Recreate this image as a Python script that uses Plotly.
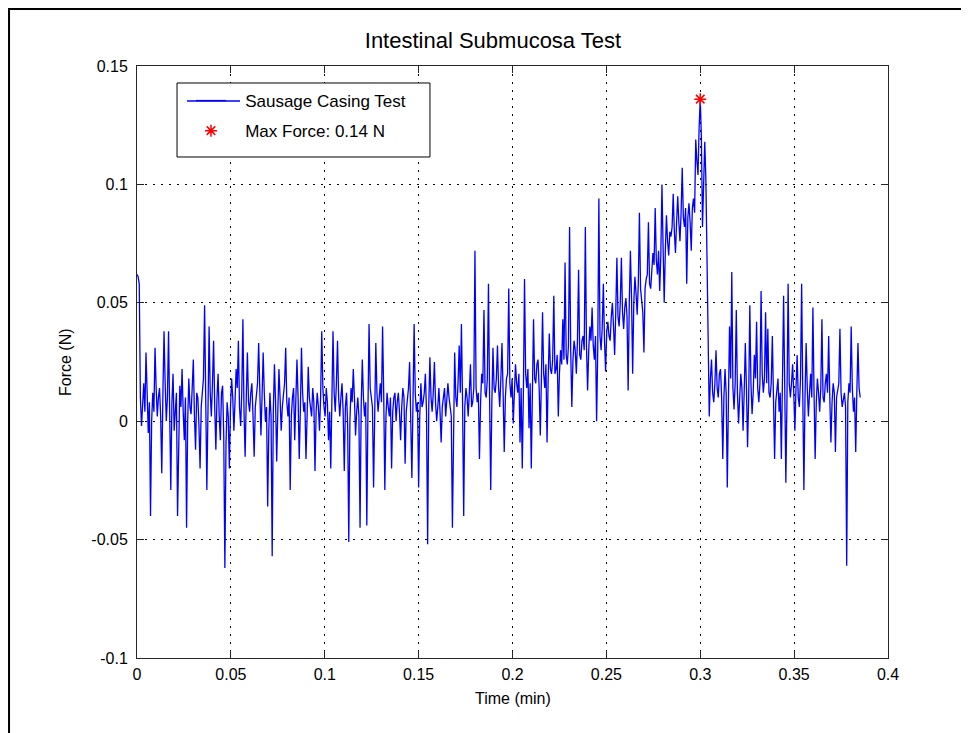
import numpy as np
import plotly.graph_objects as go

# ---- data ----
dt_min = 0.0006  # sample spacing in minutes
force_N = [
    0.062, 0.061, 0.058, 0.010, -0.002, 0.006, 0.016, 0.004, 0.029, 0.012, -0.005, 0.008, -0.040, 0.000, 0.012, 0.004, 0.031, 0.014, 0.002, 0.010,
    0.014, 0.002, -0.022, 0.012, 0.038, 0.016, 0.000, 0.010, 0.038, 0.004, -0.029, 0.008, 0.020, -0.004, 0.005, 0.012, -0.040, -0.002, 0.015, 0.006,
    0.022, 0.004, -0.008, 0.010, -0.045, 0.000, 0.018, 0.006, 0.003, 0.014, 0.026, 0.002, -0.012, 0.012, 0.010, -0.002, -0.020, 0.006, 0.012, 0.018,
    0.049, 0.008, -0.029, 0.004, 0.040, 0.012, 0.002, 0.016, 0.034, 0.006, -0.012, 0.010, 0.020, 0.002, -0.008, 0.012, 0.015, -0.006, -0.062, -0.010,
    0.008, 0.002, -0.020, 0.006, 0.018, 0.010, -0.004, 0.008, 0.022, 0.014, 0.034, 0.006, -0.002, 0.012, 0.043, 0.004, -0.015, 0.010, 0.029, 0.008,
    0.004, 0.012, 0.016, 0.002, -0.015, 0.006, 0.010, 0.016, 0.033, 0.004, -0.006, 0.010, 0.029, 0.012, 0.000, 0.006, -0.036, -0.004, 0.012, 0.002,
    -0.057, 0.004, 0.024, 0.008, -0.017, 0.004, 0.022, 0.010, -0.004, 0.006, 0.012, 0.016, 0.031, 0.008, 0.002, 0.010, -0.029, 0.002, 0.010, 0.014,
    -0.008, 0.008, 0.026, 0.010, -0.016, 0.004, 0.031, 0.012, 0.004, 0.008, -0.016, 0.002, 0.023, 0.010, 0.006, 0.002, 0.014, 0.008, -0.021, 0.004,
    0.012, 0.006, -0.004, 0.010, 0.038, 0.014, 0.006, 0.002, 0.014, 0.008, -0.008, 0.004, -0.020, 0.006, 0.038, 0.012, 0.004, 0.016, 0.034, 0.010,
    0.002, 0.010, 0.016, 0.004, -0.021, 0.006, 0.012, -0.002, -0.051, 0.000, 0.014, 0.008, 0.022, 0.010, -0.006, 0.004, 0.010, 0.002, -0.045, 0.006,
    0.026, 0.010, 0.002, 0.008, -0.044, 0.004, 0.041, 0.014, 0.010, 0.006, -0.028, 0.004, 0.033, 0.012, 0.004, 0.010, 0.016, 0.008, 0.040, 0.012,
    -0.029, 0.002, 0.012, 0.006, 0.002, 0.010, -0.020, 0.004, 0.010, 0.012, 0.000, 0.008, 0.012, 0.004, -0.008, 0.006, 0.014, 0.010, -0.018, 0.004,
    0.010, 0.014, 0.025, 0.006, -0.024, 0.008, 0.041, 0.012, 0.004, 0.008, -0.028, 0.002, 0.016, 0.006, 0.008, 0.012, 0.020, 0.004, -0.052, 0.006,
    0.027, 0.010, 0.004, 0.012, 0.025, 0.008, 0.000, 0.006, 0.014, 0.004, -0.009, 0.006, 0.010, 0.014, 0.002, 0.008, 0.016, 0.010, 0.004, 0.002,
    -0.045, 0.004, 0.029, 0.010, 0.006, 0.016, 0.032, 0.012, 0.041, 0.008, -0.040, 0.006, 0.014, 0.010, 0.002, 0.012, 0.024, 0.006, 0.008, 0.014,
    0.072, 0.014, 0.008, 0.012, -0.016, 0.008, 0.020, 0.016, 0.047, 0.012, 0.010, 0.018, 0.058, 0.010, -0.029, 0.008, 0.031, 0.014, 0.012, 0.018,
    0.032, 0.014, 0.006, 0.018, 0.033, 0.012, -0.013, 0.010, 0.018, 0.020, 0.056, 0.016, 0.010, 0.018, -0.001, 0.012, 0.024, 0.016, 0.012, 0.020,
    -0.009, 0.014, -0.020, 0.012, 0.060, 0.020, 0.014, 0.022, -0.003, 0.016, -0.020, 0.012, 0.043, 0.018, 0.016, 0.024, 0.026, 0.014, -0.006, 0.018,
    0.046, 0.020, 0.014, 0.024, -0.009, 0.018, 0.037, 0.022, 0.020, 0.026, 0.053, 0.020, 0.022, 0.028, 0.002, 0.020, 0.030, 0.024, 0.043, 0.026,
    0.067, 0.028, 0.024, 0.032, 0.082, 0.030, 0.006, 0.026, 0.034, 0.030, 0.020, 0.034, 0.064, 0.028, 0.026, 0.034, 0.036, 0.030, 0.082, 0.032,
    0.013, 0.030, 0.040, 0.034, 0.048, 0.032, 0.026, 0.036, 0.000, 0.030, 0.094, 0.036, 0.030, 0.040, 0.058, 0.034, 0.021, 0.038, 0.042, 0.036,
    0.034, 0.044, 0.050, 0.040, 0.028, 0.046, 0.069, 0.044, 0.040, 0.050, 0.069, 0.046, 0.039, 0.048, 0.052, 0.044, 0.013, 0.050, 0.072, 0.052,
    0.020, 0.050, 0.061, 0.054, 0.045, 0.058, 0.088, 0.056, 0.050, 0.046, 0.029, 0.056, 0.060, 0.062, 0.084, 0.058, 0.056, 0.064, 0.071, 0.066,
    0.090, 0.068, 0.062, 0.072, 0.055, 0.070, 0.100, 0.074, 0.050, 0.072, 0.087, 0.076, 0.070, 0.080, 0.078, 0.082, 0.096, 0.080, 0.071, 0.084,
    0.095, 0.084, 0.076, 0.088, 0.107, 0.086, 0.082, 0.090, 0.058, 0.086, 0.092, 0.084, 0.072, 0.090, 0.094, 0.088, 0.119, 0.110, 0.104, 0.124,
    0.136, 0.120, 0.082, 0.100, 0.118, 0.102, 0.062, 0.030, 0.002, 0.018, 0.026, 0.012, 0.008, 0.016, 0.030, 0.014, 0.010, 0.020, 0.022, 0.010,
    -0.016, 0.010, 0.022, 0.012, -0.028, 0.008, 0.040, 0.018, 0.063, 0.014, 0.005, 0.016, 0.047, 0.012, -0.001, 0.010, 0.020, 0.014, -0.004, 0.012,
    0.033, 0.014, -0.011, 0.010, 0.049, 0.016, 0.003, 0.012, 0.028, 0.018, 0.042, 0.014, 0.008, 0.016, 0.055, 0.020, 0.012, 0.018, 0.046, 0.016,
    0.039, 0.012, 0.010, 0.016, 0.036, 0.010, -0.016, 0.008, 0.014, 0.018, 0.004, 0.012, -0.016, 0.010, 0.053, 0.014, -0.026, 0.010, 0.058, 0.016,
    0.010, 0.016, 0.024, 0.012, -0.004, 0.014, 0.028, 0.010, 0.006, 0.018, 0.058, 0.012, -0.029, 0.010, 0.033, 0.014, 0.002, 0.012, 0.020, 0.010,
    0.048, 0.012, -0.016, 0.008, 0.018, 0.012, 0.004, 0.014, 0.043, 0.010, 0.008, 0.016, 0.020, 0.012, 0.036, 0.010, -0.009, 0.008, 0.016, 0.012,
    -0.013, 0.010, 0.014, 0.016, 0.039, 0.012, 0.006, 0.010, 0.012, 0.006, -0.061, 0.008, 0.016, 0.012, 0.040, 0.014, 0.004, 0.010, -0.013, 0.012,
    0.033, 0.014, 0.010,
]
time_min = [round(i * dt_min, 5) for i in range(len(force_N))]

x_ticks = [0, 0.05, 0.1, 0.15, 0.2, 0.25, 0.3, 0.35, 0.4]
x_tick_labels = ["0", "0.05", "0.1", "0.15", "0.2", "0.25", "0.3", "0.35", "0.4"]
y_ticks = [-0.1, -0.05, 0, 0.05, 0.1, 0.15]
y_tick_labels = ["-0.1", "-0.05", "0", "0.05", "0.1", "0.15"]

imax = int(np.argmax(force_N))
max_t = [time_min[imax]]
max_f = [force_N[imax]]

FONT = "Liberation Sans, Arial, Helvetica, sans-serif"
NB = "\u00a0\u00a0\u00a0"
LINE_BLUE = "#0000ff"

fig = go.Figure()
fig.add_trace(go.Scatter(
    x=time_min, y=force_N, mode="lines",
    line=dict(color=LINE_BLUE, width=1.3),
    name=NB + "Sausage Casing Test", legendgroup="a",
))
fig.add_trace(go.Scatter(
    x=max_t, y=max_f, mode="markers",
    marker=dict(symbol="asterisk-open", color="#ff0000", size=10,
                line=dict(color="#ff0000", width=1.5)),
    name=NB + "Max Force: %.2f N" % max_f[0], legendgroup="b",
))

axis_common = dict(
    showline=True, linecolor="#262626", linewidth=1, mirror="ticks",
    ticks="inside", ticklen=7, tickcolor="#262626", tickwidth=1,
    showgrid=True, gridcolor="#000000", gridwidth=1, griddash="2px,6px",
    zeroline=False, tickfont=dict(family=FONT, size=16, color="#000000"),
)

fig.update_layout(
    width=961, height=725,
    margin=dict(l=129, r=81, t=58, b=75),
    paper_bgcolor="white", plot_bgcolor="white",
    title=dict(text="Intestinal Submucosa Test", x=0.474, xref="paper", xanchor="center",
               y=1 - 32 / 725, yanchor="middle",
               font=dict(family=FONT, size=22, color="#000000")),
    xaxis=dict(range=[0, 0.4], tickvals=x_ticks, ticktext=x_tick_labels,
               ticklabelstandoff=2, **axis_common),
    yaxis=dict(range=[-0.1, 0.15], tickvals=y_ticks, ticktext=y_tick_labels,
               ticklabelstandoff=5, **axis_common),
    legend=dict(x=0.0719, y=0.9713, xanchor="left", yanchor="top",
                bgcolor="rgba(0,0,0,0)", borderwidth=0,
                font=dict(family=FONT, size=17, color="#000000"),
                tracegroupgap=5, traceorder="grouped"),
    showlegend=True,
    annotations=[
        dict(text="Time (min)", xref="paper", yref="paper", x=0.5, y=0,
             xanchor="center", yanchor="middle", yshift=-40, showarrow=False,
             font=dict(family=FONT, size=16, color="#000000")),
        dict(text="Force (N)", xref="paper", yref="paper", x=0, y=0.5,
             xanchor="center", yanchor="middle", xshift=-72, textangle=-90,
             showarrow=False, font=dict(family=FONT, size=16, color="#000000")),
    ],
    shapes=[
        dict(type="rect", xref="paper", yref="paper",
             x0=0.0533, x1=0.3901, y0=0.8463, y1=0.9713,
             line=dict(color="#000000", width=1), fillcolor="white", layer="above"),
        dict(type="line", xref="paper", yref="paper",
             x0=0.0666, x1=0.1372, y0=0.9409, y1=0.9409,
             line=dict(color=LINE_BLUE, width=1.3), layer="above"),
        dict(type="rect", xref="paper", yref="paper",
             x0=-0.1704, x1=1.3, y0=-0.3, y1=1.0963,
             line=dict(color="#000000", width=2), fillcolor="rgba(0,0,0,0)",
             layer="above"),
    ],
)

fig.write_html("out.html")
